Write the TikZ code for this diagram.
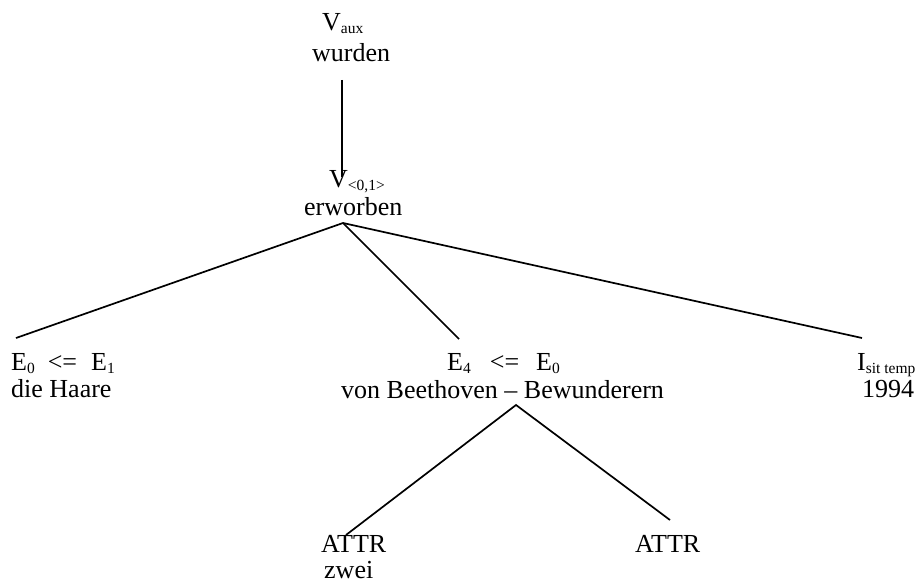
\documentclass[tikz,border=0pt]{standalone}
\usepackage{fontspec}
\setmainfont{Liberation Serif}
\newcommand{\lowsub}[1]{\raisebox{-3pt}{\fontsize{15.5}{16}\selectfont #1}}
\tikzset{
  lab/.style={anchor=base west, inner sep=0pt, font=\fontsize{26}{28}\selectfont},
  branch/.style={line width=1.7pt}
}
\begin{document}
\begin{tikzpicture}[x=1pt, y=-1pt]
\useasboundingbox (0,0) rectangle (923,583);
% labels
\node[lab] (vaux) at (322,31) {V\lowsub{aux}};
\node[lab] (wurden) at (312,62) {wurden};
\node[lab] (v01) at (329,187) {V\lowsub{<0,1>}};
\node[lab] (erworben) at (304,215) {erworben};
\node[lab] (e01) at (11,370) {E\lowsub{0}\hspace{13pt}<=\hspace{14pt}E\lowsub{1}};
\node[lab] (haare) at (11,397) {die Haare};
\node[lab] (e40) at (447,370) {E\lowsub{4}\hspace{19pt}<=\hspace{17pt}E\lowsub{0}};
\node[lab] (bewund) at (341,398) {von Beethoven – Bewunderern};
\node[lab] (isit) at (857,370) {I\lowsub{sit temp}};
\node[lab] (jahr) at (862,397) {1994};
\node[lab] (attra) at (321,552) {ATTR};
\node[lab] (zwei) at (324,578) {zwei};
\node[lab] (attrb) at (635,552) {ATTR};
% attach points
\coordinate (wurden-foot) at (342,80);
\coordinate (v01-top) at (342,177);
\coordinate (erworben-foot) at (343,223);
\coordinate (e01-top) at (16,338);
\coordinate (e40-top) at (459,339);
\coordinate (isit-top) at (862,338);
\coordinate (bewund-foot) at (516,405);
\coordinate (attra-top) at (346,535);
\coordinate (attrb-top) at (670,520);
% branches
\draw[branch] (wurden-foot) -- (v01-top);
\draw[branch] (e01-top) -- (erworben-foot) -- (isit-top);
\draw[branch] (erworben-foot) -- (e40-top);
\draw[branch] (attra-top) -- (bewund-foot) -- (attrb-top);
\end{tikzpicture}
\end{document}
